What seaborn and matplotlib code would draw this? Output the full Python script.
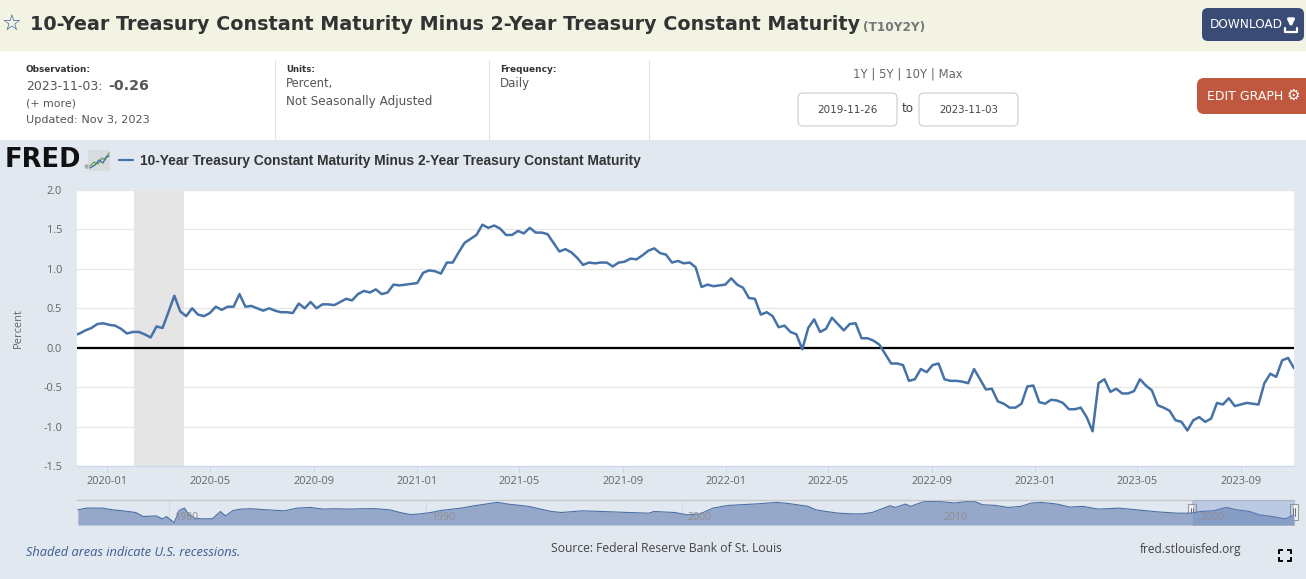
import numpy as np
import pandas as pd
import matplotlib
matplotlib.use("Agg")
import matplotlib.pyplot as plt
import matplotlib.transforms as mtrans
from matplotlib.patches import Rectangle, FancyBboxPatch
from matplotlib import font_manager
import seaborn as sns

# ---------------- data ----------------
series_start = "2019-11-26"
series_end = "2023-11-03"
first_value = 0.17
weekly_start = "2019-11-29"   # weekly observations (Fridays)
spread_values = [
    0.18, 0.22, 0.25, 0.30, 0.31, 0.29, 0.28, 0.24, 0.18, 0.20,
    0.20, 0.17, 0.13, 0.27, 0.25, 0.45, 0.66, 0.46, 0.40, 0.50,
    0.42, 0.40, 0.44, 0.52, 0.48, 0.52, 0.52, 0.68, 0.52, 0.53,
    0.50, 0.47, 0.50, 0.47, 0.45, 0.45, 0.44, 0.56, 0.50, 0.58,
    0.50, 0.55, 0.55, 0.54, 0.58, 0.62, 0.60, 0.68, 0.72, 0.70,
    0.74, 0.68, 0.70, 0.80, 0.79, 0.80, 0.81, 0.82, 0.95, 0.98,
    0.97, 0.94, 1.08, 1.08, 1.21, 1.33, 1.38, 1.43, 1.56, 1.52,
    1.55, 1.51, 1.43, 1.43, 1.48, 1.45, 1.52, 1.46, 1.46, 1.44,
    1.33, 1.22, 1.25, 1.21, 1.14, 1.05, 1.08, 1.07, 1.08, 1.08,
    1.03, 1.08, 1.09, 1.13, 1.12, 1.17, 1.23, 1.26, 1.20, 1.18,
    1.08, 1.10, 1.07, 1.08, 1.02, 0.77, 0.80, 0.78, 0.79, 0.80,
    0.88, 0.80, 0.76, 0.63, 0.62, 0.42, 0.45, 0.40, 0.26, 0.28,
    0.20, 0.17, -0.02, 0.25, 0.36, 0.20, 0.24, 0.38, 0.30, 0.22,
    0.30, 0.31, 0.12, 0.12, 0.09, 0.04, -0.08, -0.20, -0.20, -0.22,
    -0.42, -0.40, -0.27, -0.31, -0.22, -0.20, -0.40, -0.42, -0.42, -0.43,
    -0.45, -0.27, -0.40, -0.53, -0.52, -0.68, -0.71, -0.76, -0.76, -0.71,
    -0.49, -0.48, -0.69, -0.71, -0.66, -0.67, -0.70, -0.78, -0.78, -0.76,
    -0.88, -1.06, -0.45, -0.40, -0.56, -0.52, -0.58, -0.58, -0.55, -0.40,
    -0.48, -0.54, -0.73, -0.76, -0.80, -0.92, -0.94, -1.05, -0.92, -0.88,
    -0.94, -0.90, -0.70, -0.72, -0.64, -0.74, -0.72, -0.70, -0.71, -0.72,
    -0.45, -0.33, -0.37, -0.16, -0.13, -0.26,
]
recession_start = "2020-02-01"
recession_end = "2020-04-01"

y_ticks = [-1.5, -1.0, -0.5, 0.0, 0.5, 1.0, 1.5, 2.0]
x_tick_dates = ["2020-01-01", "2020-05-01", "2020-09-01", "2021-01-01", "2021-05-01",
                "2021-09-01", "2022-01-01", "2022-05-01", "2022-09-01", "2023-01-01",
                "2023-05-01", "2023-09-01"]

# navigator (full history) values, read at decimal-year positions
nav_start = "1976-06-01"
nav_years = [1976.45, 1976.8, 1977.4, 1977.8, 1978.2, 1978.7, 1979.0, 1979.5, 1979.75, 1979.9,
             1980.2, 1980.4, 1980.6, 1980.75, 1981.0, 1981.3, 1981.7, 1982.0, 1982.2, 1982.5,
             1982.8, 1983.2, 1983.8, 1984.5, 1985.0, 1985.5, 1986.0, 1986.5, 1987.0, 1987.5,
             1988.0, 1988.6, 1989.0, 1989.4, 1989.8, 1990.2, 1990.6, 1991.4, 1991.9, 1992.8,
             1993.2, 1994.0, 1994.9, 1995.3, 1996.1, 1996.9, 1997.9, 1998.7, 1998.9, 1999.7,
             2000.2, 2000.7, 2001.2, 2001.8, 2002.3, 2003.0, 2003.7, 2004.2, 2004.9, 2005.2,
             2005.6, 2006.1, 2006.6, 2007.0, 2007.4, 2008.1, 2008.3, 2008.7, 2008.9, 2009.4,
             2010.0, 2010.6, 2011.0, 2011.4, 2011.7, 2012.2, 2012.7, 2013.2, 2013.6, 2014.0,
             2014.6, 2015.1, 2015.6, 2016.2, 2016.8, 2017.0, 2017.7, 2018.5, 2019.3, 2019.8,
             2020.2, 2020.7, 2021.2, 2021.6, 2022.1, 2022.5, 2023.0, 2023.5, 2023.84]
nav_values = [0.84, 1.22, 1.22, 0.84, 0.62, 0.25, -0.64, -0.50, -1.16, -0.64,
              -1.98, 0.70, 1.22, -0.05, -1.00, -1.16, -1.10, 0.47, -0.50, 0.70,
              1.00, 1.07, 0.84, 0.62, 1.22, 1.36, 1.00, 1.07, 1.00, 1.07,
              1.10, 0.84, 0.25, -0.20, -0.05, 0.25, 0.70, 1.22, 1.74, 2.48,
              2.10, 1.60, 0.47, 0.25, 0.62, 0.47, 0.25, 0.10, 0.47, 0.25,
              -0.27, -0.05, 1.22, 1.81, 1.96, 2.18, 2.48, 2.18, 1.60, 0.84,
              0.47, 0.10, -0.05, -0.05, 0.25, 1.74, 1.36, 2.10, 1.60, 2.63,
              2.70, 2.33, 2.63, 2.63, 1.96, 1.81, 1.36, 1.60, 2.33, 2.48,
              2.10, 1.44, 1.60, 1.00, 1.14, 1.22, 0.84, 0.40, 0.10, 0.10,
              0.47, 0.62, 1.36, 0.84, 0.47, -0.27, -0.64, -1.16, -0.26]
nav_year_labels = [1980, 1990, 2000, 2010, 2020]

title = "10-Year Treasury Constant Maturity Minus 2-Year Treasury Constant Maturity"
series_id = "(T10Y2Y)"

# ---------------- setup ----------------
W, H = 1306, 579
sns.set_theme(style="white")
names = {f.name for f in font_manager.fontManager.ttflist}
def pick(*cands):
    for c in cands:
        if c in names:
            return c
    return "DejaVu Sans"
F_HEAD = pick("DejaVu Sans")
F_CHART = pick("Open Sans", "Noto Sans", "DejaVu Sans")
F_NARROW = pick("Liberation Sans Narrow", "Liberation Sans", "DejaVu Sans")
plt.rcParams['font.family'] = [F_HEAD, 'DejaVu Sans']

fig = plt.figure(figsize=(W / 100, H / 100), dpi=100)
bg = fig.add_axes([0, 0, 1, 1])
bg.set_xlim(0, W)
bg.set_ylim(H, 0)
bg.axis('off')
bg.set_zorder(-5)

PT = 0.72
fits = []
def T(x, y, s, px, w=None, **kw):
    kw.setdefault('va', 'center')
    kw.setdefault('ha', 'left')
    t = bg.text(x, y, s, fontsize=px * PT, **kw)
    if w:
        fits.append((t, w))
    return t

# page bands
bg.add_patch(Rectangle((0, 0), W, 51, color='#f2f3e2', lw=0))
bg.add_patch(Rectangle((0, 51), W, 89, color='white', lw=0))
bg.add_patch(Rectangle((0, 140), W, H - 140, color='#e1e8f0', lw=0))
for sx in [275, 489, 649]:
    bg.plot([sx, sx], [60, 140], color='#e3e3e3', lw=0.8)

# header
T(11, 25, "\u2606", 22, ha='center', color='#2f5597', family='DejaVu Sans')
T(30, 24, title, 19, 827, fontweight='bold', color='#333333', family=F_HEAD)
T(863, 28, series_id, 11, 63, fontweight='bold', color='#777777', family=F_HEAD)

bg.add_patch(FancyBboxPatch((1202, 8), 102, 33, boxstyle="round,pad=0,rounding_size=6",
                            fc='#3a4c75', ec='none'))
T(1210, 25, "DOWNLOAD", 12, 73, color='white', family=F_HEAD)
bg.annotate('', xy=(1291, 30), xytext=(1291, 17),
            arrowprops=dict(arrowstyle='-|>', color='white', lw=2.2, mutation_scale=9))
bg.plot([1285, 1285, 1297, 1297], [28, 32, 32, 28], color='white', lw=1.6)

# info band
T(26, 69, "Observation:", 9.5, 65, fontweight='bold', color='#333333')
T(26, 86, "2023-11-03:", 13, 77, color='#555555')
T(108, 86, "-0.26", 14, 41, fontweight='bold', color='#555555')
T(26, 103, "(+ more)", 11, 50, color='#555555')
T(26, 120, "Updated: Nov 3, 2023", 11, 124, color='#555555')
T(286, 69, "Units:", 9.5, 29, fontweight='bold', color='#333333')
T(286, 84, "Percent,", 12, 47, color='#555555')
T(286, 101, "Not Seasonally Adjusted", 12, 146, color='#555555')
T(500, 69, "Frequency:", 9.5, 56, fontweight='bold', color='#333333')
T(500, 84, "Daily", 12, 30, color='#555555')
T(908, 74, "1Y | 5Y | 10Y | Max", 11, 109, ha='center', color='#666666')
for bx, lab in [(798, series_start), (919, series_end)]:
    bg.add_patch(FancyBboxPatch((bx, 93), 99, 33, boxstyle="round,pad=0,rounding_size=5",
                                fc='white', ec='#cccccc', lw=0.8))
    T(bx + 49.5, 110, lab, 10.5, 60, ha='center', color='#444444')
T(908, 109, "to", 12, 12, ha='center', color='#444444')

bg.add_patch(FancyBboxPatch((1197, 78), 115, 36, boxstyle="round,pad=0,rounding_size=7",
                            fc='#c0573f', ec='none'))
T(1207, 96, "EDIT GRAPH", 12, 76, color='white')
T(1293, 95, "\u2699", 15, ha='center', color='white', family='DejaVu Sans')

# legend row
T(5, 160, "FRED", 24, 77, fontweight='bold', color='#111111', family='DejaVu Sans')
T(83, 168, "\u00ae", 5, color='#333333', family='DejaVu Sans')
bg.add_patch(FancyBboxPatch((88, 150), 22, 21, boxstyle="round,pad=0,rounding_size=2",
                            fc='#d9dcdf', ec='none'))
bg.plot([90, 94, 98, 102, 105, 109], [166, 162, 164, 158, 160, 153], color='#6aa84f', lw=1)
bg.plot([90, 95, 99, 103, 106, 109], [168, 165, 160, 163, 157, 156], color='#4572a7', lw=1)
bg.plot([119, 133], [160, 160], color='#4572a7', lw=1.6)
T(140, 161, title, 12, 505, fontweight='bold', color='#333333', family=F_NARROW)

# axis title
T(18, 328, "Percent", 11, rotation=90, ha='center', color='#666666', family=F_CHART)

# footer
T(26, 553, "Shaded areas indicate U.S. recessions.", 12, 213, fontstyle='italic',
  color='#3a5c94', family=F_CHART)
T(666, 549, "Source: Federal Reserve Bank of St. Louis", 12, 230, ha='center',
  color='#444444', family=F_CHART)
T(1140, 549, "fred.stlouisfed.org", 12, 102, color='#444444', family=F_CHART)
for (cx, cy, dx, dy) in [(1279, 550, 1, 1), (1291, 550, -1, 1), (1279, 561, 1, -1), (1291, 561, -1, -1)]:
    bg.plot([cx + 4 * dx, cx, cx], [cy, cy, cy + 4 * dy], color='black', lw=1.4,
            solid_capstyle='butt')

# ---------------- main chart ----------------
dates = pd.DatetimeIndex([pd.Timestamp(series_start)]).append(
    pd.date_range(weekly_start, periods=len(spread_values), freq="7D"))
df = pd.DataFrame({"date": dates, "value": [first_value] + spread_values})

ax = fig.add_axes([77 / W, 1 - 466 / H, (1294 - 77) / W, (466 - 190) / H])
ax.set_facecolor('white')
ax.axvspan(pd.Timestamp(recession_start), pd.Timestamp(recession_end),
           color='#e5e5e5', lw=0, zorder=1)
ax.axhline(0, color='black', lw=1.6, zorder=3)
sns.lineplot(data=df, x="date", y="value", ax=ax, color='#4572a7', lw=1.8,
             zorder=4, legend=False)
ax.set_xlim(pd.Timestamp(series_start), pd.Timestamp(series_end))
ax.set_ylim(-1.5, 2.0)
ax.set_yticks(y_ticks)
ax.set_yticklabels([f"{v:.1f}" for v in y_ticks], family=F_CHART)
xt = pd.to_datetime(x_tick_dates)
ax.set_xticks(xt)
ax.set_xticklabels([d.strftime("%Y-%m") for d in xt], family=F_CHART)
ax.set_xlabel("")
ax.set_ylabel("")
ax.grid(axis='y', color='#e6e6e6', lw=0.9)
ax.grid(axis='x', visible=False)
ax.set_axisbelow(True)
for s in ['top', 'right', 'left']:
    ax.spines[s].set_visible(False)
ax.spines['bottom'].set_color('#ccd6eb')
ax.spines['bottom'].set_linewidth(0.8)
ax.tick_params(axis='x', length=6 * PT, width=0.8, color='#ccd6eb', labelsize=11 * PT,
               labelcolor='#666666', pad=3, bottom=True)
ax.tick_params(axis='y', length=0, labelsize=11 * PT, labelcolor='#666666', pad=15 * PT)

# ---------------- navigator ----------------
def dec_year(y):
    return pd.Timestamp(int(y), 1, 1) + pd.Timedelta(days=(y % 1) * 365.25)
nav_df = pd.DataFrame({"date": [dec_year(y) for y in nav_years], "value": nav_values})
ax2 = fig.add_axes([77 / W, 1 - 525 / H, (1294 - 77) / W, 25 / H])
ax2.set_facecolor('none')
ax2.set_xlim(pd.Timestamp(nav_start), pd.Timestamp(series_end))
ax2.set_ylim(-2.5, 3.0)
for yr in nav_year_labels:
    ax2.axvline(pd.Timestamp(f"{yr}-01-01"), color='#d3dae5', lw=0.8, zorder=0.5)
ax2.fill_between(nav_df["date"], nav_df["value"], -2.5, color='#95a8c9', lw=0, zorder=1)
sns.lineplot(data=nav_df, x="date", y="value", ax=ax2, color='#4a6fa5', lw=0.8,
             zorder=2, legend=False)
ax2.axvspan(pd.Timestamp(series_start), pd.Timestamp(series_end),
            color=(102 / 255, 133 / 255, 194 / 255), alpha=0.3, lw=0, zorder=3)
off = mtrans.offset_copy(ax2.get_xaxis_transform(), fig=fig, x=5, y=0, units='dots')
for yr in nav_year_labels:
    ax2.text(pd.Timestamp(f"{yr}-01-01"), 0.3, str(yr), transform=off, ha='left',
             va='center', fontsize=10.5 * PT, color='#8f8f8f',
             family=F_CHART, zorder=4)
ax2.set_xticks([])
ax2.set_yticks([])
ax2.set_xlabel("")
ax2.set_ylabel("")
for s in ['bottom', 'right', 'left']:
    ax2.spines[s].set_visible(False)
ax2.spines['top'].set_color('#c8c8c8')
ax2.spines['top'].set_linewidth(0.9)

# selection outline + handles (pixel space)
bg.plot([1192, 1192, 1294, 1294], [500, 525, 525, 500], color='#c0c0c0', lw=0.8)
for hx in [1192, 1294]:
    bg.add_patch(Rectangle((hx - 4, 504), 8, 16, fc='#f2f2f2', ec='#999999', lw=0.8, zorder=6))
    bg.plot([hx - 1.2, hx - 1.2], [508, 516], color='#555555', lw=0.6, zorder=7)
    bg.plot([hx + 1.2, hx + 1.2], [508, 516], color='#555555', lw=0.6, zorder=7)

# ---------------- fit text widths ----------------
r = fig.canvas.get_renderer()
for t, w in fits:
    bb = t.get_window_extent(r)
    if bb.width > 0:
        t.set_fontsize(t.get_fontsize() * w / bb.width)

fig.savefig("out.png", dpi=100)
